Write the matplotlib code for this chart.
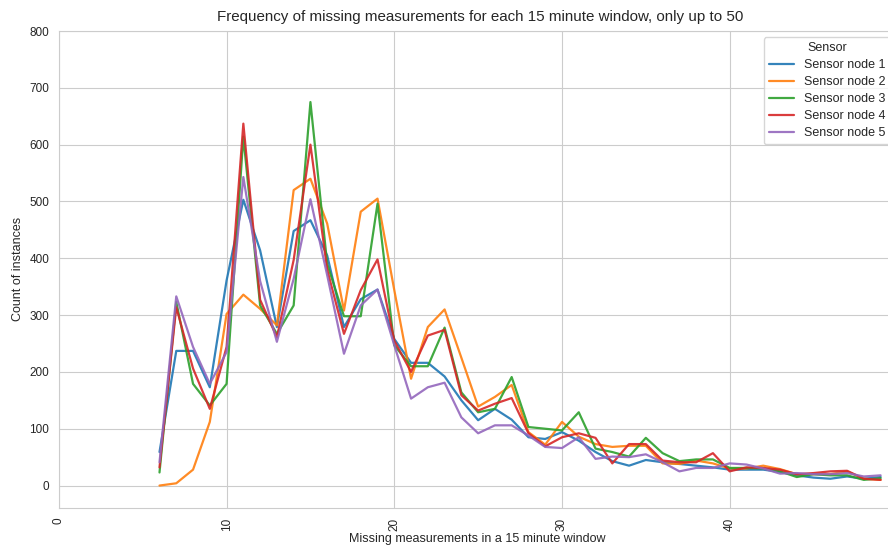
import matplotlib
matplotlib.use("Agg")
import matplotlib.pyplot as plt
import seaborn as sns
import numpy as np

sns.set_style("whitegrid")
plt.rcParams['font.family'] = ['Liberation Sans', 'DejaVu Sans']

# missing measurements per 15 minute window (6..49)
missing = list(range(6, 50))

node1 = [59, 237, 237, 173, 361, 503, 414, 279, 448, 467, 405, 279, 328, 345, 258, 216, 216, 192, 150, 115,
         135, 116, 85, 82, 94, 79, 59, 43, 35, 45, 41, 38, 35, 32, 28, 28, 28, 24, 18, 14, 12, 16, 12, 15]
node2 = [0, 4, 28, 112, 302, 336, 311, 282, 520, 540, 461, 308, 482, 505, 344, 188, 279, 310, 225, 139,
         156, 177, 94, 72, 112, 86, 73, 68, 70, 70, 39, 38, 44, 39, 30, 30, 35, 29, 20, 20, 20, 25, 12, 10]
node3 = [23, 323, 179, 141, 179, 614, 317, 267, 317, 675, 390, 298, 298, 496, 247, 210, 210, 278, 164, 129,
         135, 191, 103, 100, 97, 129, 65, 59, 51, 84, 57, 43, 46, 46, 31, 31, 30, 25, 15, 20, 18, 18, 10, 13]
node4 = [32, 314, 206, 135, 244, 637, 327, 261, 397, 600, 380, 267, 344, 398, 255, 200, 264, 274, 159, 132,
         144, 154, 92, 69, 85, 92, 84, 39, 73, 73, 44, 41, 41, 57, 25, 32, 31, 28, 20, 22, 25, 26, 12, 10]
node5 = [41, 333, 244, 179, 235, 543, 360, 253, 364, 504, 370, 232, 317, 345, 247, 153, 173, 181, 120, 92,
         106, 106, 88, 68, 66, 85, 47, 51, 50, 55, 41, 25, 31, 31, 39, 37, 30, 21, 22, 20, 20, 22, 16, 18]

series = {
    "Sensor node 1": node1,
    "Sensor node 2": node2,
    "Sensor node 3": node3,
    "Sensor node 4": node4,
    "Sensor node 5": node5,
}

fig = plt.figure(figsize=(8.88, 5.49), dpi=100)
ax = fig.add_axes([0.0663, 0.0752, 0.9337, 0.8683])

for name, vals in series.items():
    ax.plot(missing, vals, lw=1.6, alpha=0.9, label=name)

ax.set_xlim(0, 49.44)
ax.set_ylim(-39, 800)
ax.set_xticks([0, 10, 20, 30, 40])
ax.set_yticks(np.arange(0, 801, 100))
ax.tick_params(axis='x', labelrotation=90, labelsize=8.5, colors='#262626')
ax.tick_params(axis='y', labelsize=8.5, colors='#262626')
ax.spines['right'].set_visible(False)

ax.set_title("Frequency of missing measurements for each 15 minute window, only up to 50",
             fontsize=10.9, pad=7, x=0.508)
ax.set_xlabel("Missing measurements in a 15 minute window", fontsize=9)
ax.xaxis.set_label_coords(0.505, -0.052)
ax.set_ylabel("Count of instances", fontsize=9)

ax.legend(title="Sensor", loc="upper left", bbox_to_anchor=(0.8504, 0.987),
          borderaxespad=0, fontsize=9, title_fontsize=9, frameon=True, labelspacing=0.4)

fig.savefig("out.png", dpi=100)
